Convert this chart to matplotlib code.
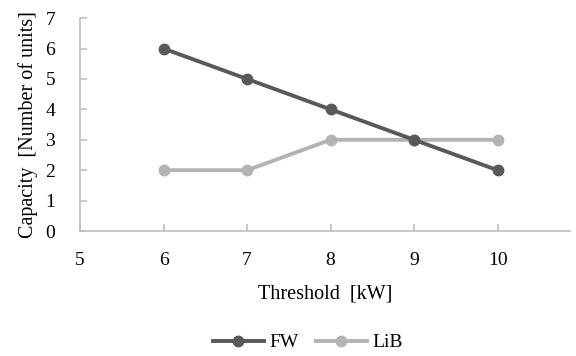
import matplotlib
matplotlib.use("Agg")
import matplotlib.pyplot as plt

# data
threshold = [6, 7, 8, 9, 10]
fw = [6, 5, 4, 3, 2]
lib = [2, 2, 3, 3, 3]

plt.rcParams['font.family'] = ['Liberation Serif', 'DejaVu Serif']

fig = plt.figure(figsize=(5.76, 3.56), dpi=100)
ax = fig.add_axes([0.139, 0.351, 0.851, 0.598])

ax.plot(threshold, fw, color='#595959', lw=2.8, marker='o', ms=7.5, label='FW', zorder=3)
ax.plot(threshold, lib, color='#b3b3b3', lw=2.8, marker='o', ms=7.5, label='LiB', zorder=2)

ax.set_xlim(5, 10.87)
ax.set_ylim(0, 7)
ax.set_xticks(range(5, 11))
ax.set_yticks(range(0, 8))

for s in ['top', 'right']:
    ax.spines[s].set_visible(False)
for s in ['left', 'bottom']:
    ax.spines[s].set_color('#bfbfbf')
    ax.spines[s].set_linewidth(1.2)

ax.tick_params(axis='both', direction='in', color='#bfbfbf', width=1.2, length=5,
               labelsize=14, colors='#bfbfbf', labelcolor='black')
ax.tick_params(axis='x', pad=15)
ax.tick_params(axis='y', pad=18)

ax.set_xlabel('Threshold  [kW]', fontsize=14.5, labelpad=11)
ax.set_ylabel('Capacity  [Number of units]', fontsize=14.5, labelpad=5)

ax.legend(loc='upper center', bbox_to_anchor=(0.465, -0.40), ncol=2, frameon=False,
          fontsize=14, handlelength=2.6, columnspacing=0.9, handletextpad=0.3)

fig.savefig('out.png', dpi=100)
